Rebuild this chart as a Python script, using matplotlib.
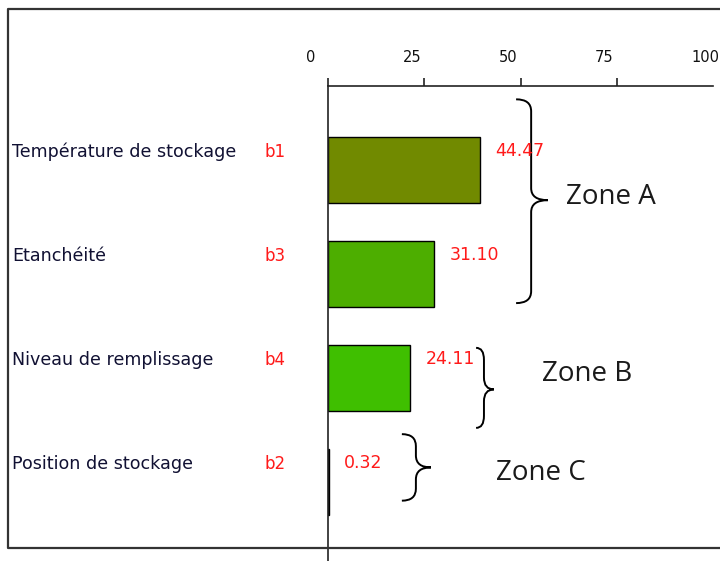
import numpy as np
import matplotlib
matplotlib.use("Agg")
import matplotlib.pyplot as plt
from matplotlib.path import Path
from matplotlib.patches import PathPatch
from matplotlib.lines import Line2D

# data
categories = ["Température de stockage", "Etanchéité", "Niveau de remplissage", "Position de stockage"]
codes = ["b1", "b3", "b4", "b2"]
values = [44.47, 31.10, 24.11, 0.32]
value_labels = ["44.47", "31.10", "24.11", "0.32"]
bar_colors = ["#718a00", "#4dae00", "#3fbf00", "#33cc00"]
axis_ticks = [0, 25, 50, 75, 100]

# zone braces: (label, column x, curl x, tip x, y top, y bottom, y tip, text x, text y)
zones = [
    ("Zone A", 59.4, 55.0, 64.3, -0.68, 1.28, 0.29, 69.6, 0.26),
    ("Zone B", 45.6, 43.3, 48.5, 1.71, 2.48, 2.11, 62.6, 1.96),
    ("Zone C", 25.7, 21.6, 30.1, 2.54, 3.18, 2.86, 49.1, 2.91),
]

W, H = 720, 561
fig = plt.figure(figsize=(W / 100, H / 100), dpi=100)
ax = fig.add_axes([328 / W, 0, 385 / W, 1 - 86 / H])

y = np.arange(len(values))
ax.barh(y, values, height=0.635, color=bar_colors, edgecolor="black", linewidth=1.0)
ax.set_xlim(0, 385 / 3.42)
ax.set_ylim(3.76, -0.808)
ax.set_yticks([])
ax.set_xticks([])
for s in ["right", "bottom", "top"]:
    ax.spines[s].set_visible(False)
ax.spines["left"].set_color("#222222")
ax.spines["left"].set_linewidth(1.2)
ax.spines["left"].set_zorder(5)

# top scale (different unit than the bars, as in the original)
k = 3.42 / 3.856
secax = ax.secondary_xaxis("top", functions=(lambda v: v * k, lambda v: v / k))
secax.set_xticks(axis_ticks)
secax.tick_params(axis="x", direction="out", length=6, width=1.2, color="#222222", labeltop=False)
secax.spines["top"].set_color("#222222")
secax.spines["top"].set_linewidth(1.2)
for t in axis_ticks:
    ax.annotate(str(t), xy=(t / k, 1), xycoords=("data", "axes fraction"),
                xytext=(-22, 28), textcoords="offset pixels",
                ha="left", va="center", fontsize=10.5, color="#111111",
                annotation_clip=False)

# category labels, codes, values
for i, (cat, code, v, vl) in enumerate(zip(categories, codes, values, value_labels)):
    ax.annotate(cat, xy=(12 / W, i), xycoords=("figure fraction", "data"),
                xytext=(0, 18), textcoords="offset pixels",
                ha="left", va="center", fontsize=12.6, color="#111133",
                annotation_clip=False)
    ax.annotate(code, xy=(265 / W, i), xycoords=("figure fraction", "data"),
                xytext=(0, 18), textcoords="offset pixels",
                ha="left", va="center", fontsize=12, color="#ff1a1a",
                annotation_clip=False)
    ax.annotate(vl, xy=(v, i), xycoords="data",
                xytext=(15, 19), textcoords="offset pixels",
                ha="left", va="center", fontsize=12.5, color="#ff1a1a",
                annotation_clip=False)

# curly braces
def brace(ax, col, curl, tip, y0, y1, ym, r=0.115):
    verts = [
        (curl, y0), (col, y0), (col, y0 + r),
        (col, ym - r),
        (col, ym), (tip, ym),
        (col, ym), (col, ym + r),
        (col, y1 - r),
        (col, y1), (curl, y1),
    ]
    codes_ = [Path.MOVETO, Path.CURVE3, Path.CURVE3,
              Path.LINETO,
              Path.CURVE3, Path.CURVE3,
              Path.CURVE3, Path.CURVE3,
              Path.LINETO,
              Path.CURVE3, Path.CURVE3]
    patch = PathPatch(Path(verts, codes_), facecolor="none", edgecolor="black",
                      linewidth=1.4, clip_on=False)
    ax.add_patch(patch)

for label, col, curl, tip, y0, y1, ym, tx, ty in zones:
    brace(ax, col, curl, tip, y0, y1, ym)
    ax.text(tx, ty, label, fontsize=20, family="Open Sans", color="#1a1a1a",
            ha="left", va="center", clip_on=False)

# outer frame
fx0, fy_top, fy_bot = 8 / W, 1 - 9 / H, 1 - 548 / H
fig.add_artist(Line2D([1.01, fx0, fx0, 1.01], [fy_bot, fy_bot, fy_top, fy_top],
                      transform=fig.transFigure, color="#333333", linewidth=1.6))

fig.savefig("out.png", dpi=100)
